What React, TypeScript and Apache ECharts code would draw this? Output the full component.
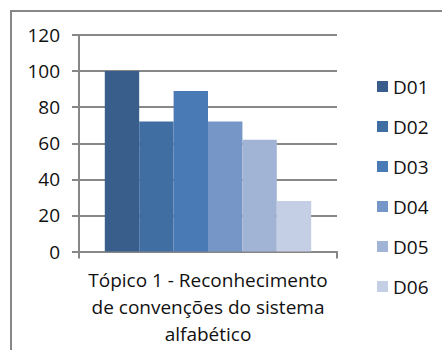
import React, { useEffect, useRef } from "react";
import * as echarts from "echarts";

const categoryLines = ["Tópico 1 - Reconhecimento", "de convenções do sistema", "alfabético"];
const categories = [categoryLines.join(" ")];
const seriesNames = ["D01", "D02", "D03", "D04", "D05", "D06"];
const seriesValues = [100, 72, 89, 72, 62, 28];
const seriesColors = ["#395e8b", "#406ea2", "#4a7ab6", "#7596c6", "#a2b4d5", "#c4cee4"];
const yTicks = { min: 0, max: 120, interval: 20 };

const FONT = "Open Sans";
const GRAY = "#878787";

export default function App() {
  const ref = useRef<HTMLDivElement>(null);
  useEffect(() => {
    if (!ref.current) return;
    const chart = echarts.init(ref.current, null, { renderer: "svg" });
    chart.setOption({
      animation: false,
      backgroundColor: "#ffffff",
      textStyle: { fontFamily: FONT },
      graphic: [
        {
          type: "rect",
          shape: { x: 11, y: 11, width: 600, height: 500 },
          style: { fill: "none", stroke: GRAY, lineWidth: 2 },
          silent: true,
        },
      ],
      grid: { left: 79, right: 105, top: 35, bottom: 98.5 },
      legend: {
        orient: "vertical",
        left: 372,
        top: 72,
        itemWidth: 11,
        itemHeight: 11,
        itemGap: 21,
        icon: "rect",
        selectedMode: false,
        textStyle: { fontFamily: FONT, fontSize: 19, color: "#111" },
        data: seriesNames,
      },
      xAxis: {
        type: "category",
        data: categories,
        axisLine: { show: true, lineStyle: { color: GRAY, width: 2 } },
        axisTick: { show: true, length: 7, lineStyle: { color: GRAY, width: 2 } },
        axisLabel: {
          margin: 15,
          fontFamily: FONT,
          fontSize: 19,
          lineHeight: 27,
          color: "#111",
          align: "center",
          formatter: () => categoryLines.join("\n"),
        },
      },
      yAxis: {
        type: "value",
        min: yTicks.min,
        max: yTicks.max,
        interval: yTicks.interval,
        axisLine: { show: true, lineStyle: { color: GRAY, width: 2 } },
        axisTick: { show: true, length: 7, lineStyle: { color: GRAY, width: 2 } },
        splitLine: { show: true, lineStyle: { color: GRAY, width: 2 } },
        axisLabel: { margin: 19, fontFamily: FONT, fontSize: 19, color: "#111" },
      },
      series: seriesNames.map((name, i) => ({
        name,
        type: "bar",
        data: [seriesValues[i]],
        barGap: "0%",
        barCategoryGap: "20%",
        itemStyle: { color: seriesColors[i] },
      })),
    });
    return () => chart.dispose();
  }, []);
  return (
    <div
      ref={ref}
      style={{ position: "absolute", left: 0, top: 0, width: 442, height: 350 }}
    />
  );
}
